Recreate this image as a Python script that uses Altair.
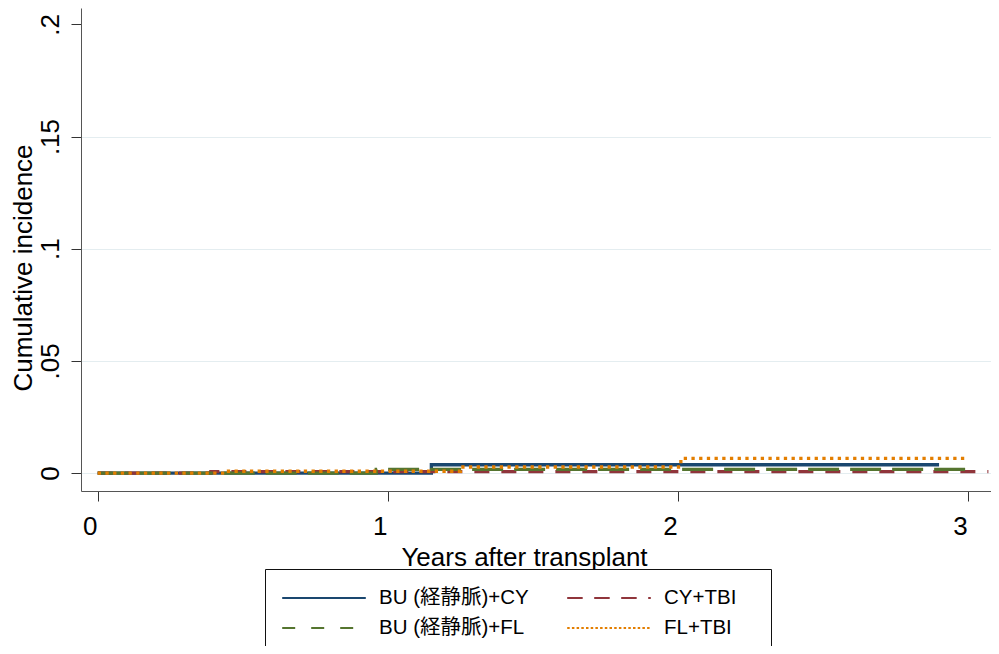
import altair as alt
import pandas as pd

# ---- data (years after transplant, cumulative incidence) ----
series_order = ["BU (経静脈)+CY", "CY+TBI", "BU (経静脈)+FL", "FL+TBI"]
legend_keys = ["a", "b", "c", "d"]          # sort keys: legend fills 2 columns
legend_domain = ["a", "c", "b", "d"]

bu_cy_years = [0.0, 1.15, 2.90]
bu_cy_vals = [0.0, 0.0037, 0.0037]

cy_tbi_years = [0.0, 0.39, 3.07]
cy_tbi_vals = [0.0, 0.0006, 0.0006]

bu_fl_years = [0.0, 0.96, 3.00]
bu_fl_vals = [0.0, 0.0016, 0.0016]

fl_tbi_years = [0.0, 0.44, 1.25, 2.01, 3.00]
fl_tbi_vals = [0.0, 0.0008, 0.0027, 0.0065, 0.0065]

x_ticks = [0, 1, 2, 3]
y_ticks = [0, 0.05, 0.1, 0.15, 0.2]

# styles (per series, same order as series_order)
colors = ["#1a476f", "#90353b", "#55752f", "#e37e00"]
line_dashes = [[1, 0], [15, 12], [31, 11], [3.3, 4.4]]
legend_dashes = [[1, 0], [15.5, 11.5], [13, 16], [2.5, 2.2]]

key_of = dict(zip(series_order, legend_keys))
name_of = dict(zip(legend_keys, series_order))
color_of = dict(zip(legend_keys, colors))
ldash_of = dict(zip(legend_keys, legend_dashes))

rows = []
for name, xs, ys in [
    ("BU (経静脈)+CY", bu_cy_years, bu_cy_vals),
    ("CY+TBI", cy_tbi_years, cy_tbi_vals),
    ("BU (経静脈)+FL", bu_fl_years, bu_fl_vals),
    ("FL+TBI", fl_tbi_years, fl_tbi_vals),
]:
    for x, y in zip(xs, ys):
        rows.append({"series": name, "key": key_of[name], "year": x, "value": y})
df = pd.DataFrame(rows)

FONT = "Liberation Sans, Arial, Noto Sans CJK JP"

xscale = alt.Scale(domain=[-0.0576, 3.079], nice=False, zero=False)
yscale = alt.Scale(domain=[-0.0080, 0.2073], nice=False, zero=False)

xaxis = alt.Axis(
    values=x_ticks, title="Years after transplant", grid=False,
    tickSize=10, tickColor="#333333", domainColor="#555555",
    labelFontSize=26, labelFont=FONT, labelColor="black",
    labelBaseline="alphabetic", labelPadding=33, labelOffset=-8,
    labelFlush=False, labelOverlap=False,
    titleFontSize=26, titleFont=FONT, titleColor="black", titleFontWeight="normal",
    titleX=443, titleY=74, titleAlign="center", titleBaseline="alphabetic",
)
yaxis = alt.Axis(
    values=y_ticks, title="Cumulative incidence",
    labelExpr="datum.value == 0 ? '0' : replace(toString(datum.value), '0.', '.')",
    grid=True,
    gridColor={"condition": {"test": "datum.value > 0.19", "value": "transparent"}, "value": "#e4edf0"},
    tickSize=10, tickColor="#333333", domainColor="#555555",
    labelFontSize=26, labelFont=FONT, labelColor="black",
    labelAngle=270, labelAlign="center", labelBaseline="alphabetic", labelPadding=13,
    labelFlush=False, labelOverlap=False,
    titleFontSize=26, titleFont=FONT, titleColor="black", titleFontWeight="normal",
    titleAngle=270, titleX=-50, titleY=259.5, titleAlign="center", titleBaseline="alphabetic",
)

label_expr = " : ".join(
    f"datum.value == '{k}' ? '{name_of[k]}'" for k in legend_keys[:-1]
) + f" : '{name_of[legend_keys[-1]]}'"

legend = alt.Legend(
    title=" ", titleOrient="right", titlePadding=19, titleFontSize=4,
    labelExpr=label_expr,
    orient="none", legendX=184, legendY=561, columns=2,
    symbolType="stroke", symbolSize=6990, symbolStrokeWidth=2, symbolOpacity=1,
    clipHeight=26, rowPadding=4, columnPadding=37, labelOffset=12,
    padding=16, strokeColor="#111111", fillColor="white",
    labelFont=FONT, labelFontSize=20.5, labelColor="black", labelLimit=0,
)

base = alt.Chart(df)

# visible step lines, one layer per series (draw order = series order)
layers = []
for name, col, dash in zip(series_order, colors, line_dashes):
    layers.append(
        base.transform_filter(alt.datum.series == name).mark_line(
            interpolate="step-after", strokeWidth=3.3, strokeCap="butt",
            color=col, strokeDash=dash,
        ).encode(
            x=alt.X("year:Q", scale=xscale, axis=xaxis),
            y=alt.Y("value:Q", scale=yscale, axis=yaxis),
        )
    )

# legend carrier layer (same data, transparent strokes)
legend_layer = base.mark_line(
    interpolate="step-after", strokeWidth=2, strokeOpacity=0,
).encode(
    x=alt.X("year:Q", scale=xscale, axis=xaxis),
    y=alt.Y("value:Q", scale=yscale, axis=yaxis),
    color=alt.Color(
        "key:N",
        scale=alt.Scale(domain=legend_domain, range=[color_of[k] for k in legend_domain]),
        legend=legend,
    ),
    strokeDash=alt.StrokeDash(
        "key:N",
        scale=alt.Scale(domain=legend_domain, range=[ldash_of[k] for k in legend_domain]),
        legend=legend,
    ),
)

chart = alt.layer(legend_layer, *layers).properties(
    width=910, height=483,
    autosize=alt.AutoSizeParams(type="none"),
    padding={"left": 73, "top": 0, "right": 0, "bottom": 155},
).configure(font=FONT).configure_view(strokeWidth=0)

chart.save("out.html", embed_options={"renderer": "svg", "actions": False})
